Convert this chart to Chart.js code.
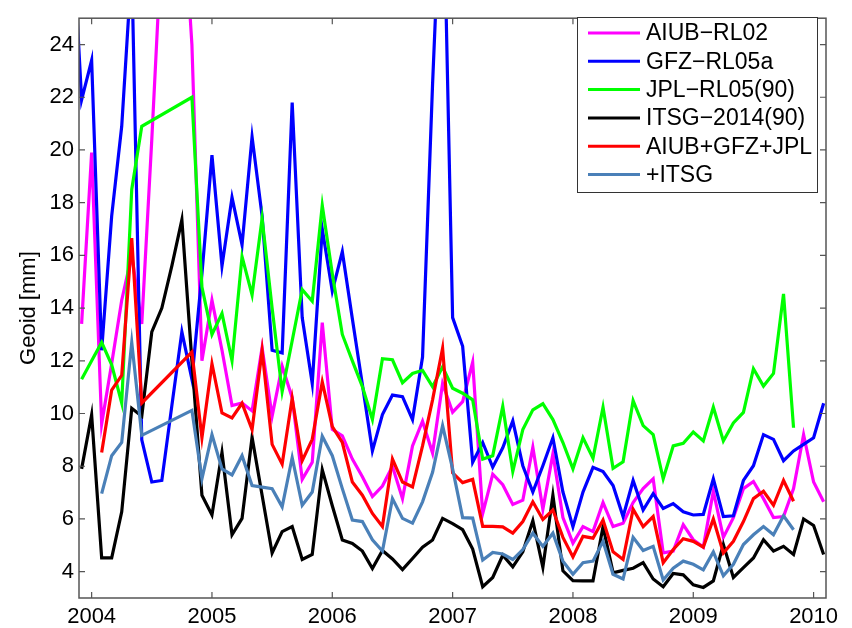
<!DOCTYPE html>
<html>
<head>
<meta charset="utf-8">
<script src="https://cdn.jsdelivr.net/npm/chart.js@4"></script>
<style>
  html, body { margin: 0; padding: 0; background: #fff; }
</style>
</head>
<body>
<canvas id="geoidChart" width="852" height="628"></canvas>
<script>
// Monthly geoid series, Nov 2003 .. Feb 2010 (one value per month, null = no solution)
const firstYear = 2003, firstMonth = 11;
const yearTicks = [2004, 2005, 2006, 2007, 2008, 2009, 2010];
const yTicks = [4, 6, 8, 10, 12, 14, 16, 18, 20, 22, 24];

const seriesNames = ['AIUB\u2212RL02', 'GFZ\u2212RL05a', 'JPL\u2212RL05(90)', 'ITSG\u22122014(90)', 'AIUB+GFZ+JPL', '+ITSG'];
const seriesColors = ['#ff00ff', '#0000ff', '#00ff00', '#000000', '#ff0000', '#4a80b8'];

const aiub = [null, 13.4, 19.9, 9.6, 11.9, 14.3, 16.0, 13.4, 20.4, 28, 32, 30, 24,
  12.0, 14.3, 12.4, 10.3, 10.4, 10.1, 12.5, 9.9, 11.8, 10.6, 7.5, 8.15, 13.45,
  9.4, 9.15, 8.27, 7.6, 6.85, 7.25, 8.0, 6.77, 8.77, 9.71, 8.5, 11.14,
  10.05, 10.45, 11.95, 6.2, 7.7, 7.3, 6.55, 6.71, 8.72, 6.37, 8.47, 6.05,
  5.08, 5.71, 5.52, 6.62, 5.71, 5.84, 6.62, 7.15, 7.52, 4.71, 4.78, 5.78,
  5.21, 4.93, 7.05, 5.3, 6.05, 7.15, 7.42, 6.77, 6.05, 6.09, 7.15, 9.2,
  7.4, 6.65];
const gfz = [29, 21.9, 23.4, 12.4, 17.5, 20.9, 27, 9.0, 7.4, 7.46, 10.3, 13.1, 11.3,
  15.3, 19.8, 15.6, 18.2, 16.4, 20.5, 17.5, 12.4, 12.3, 21.8, 13.64, 11.14, 17.0,
  14.64, 16.14, 13.6, 11.1, 8.58, 9.96, 10.7, 10.64, 9.77, 12.14, 22.5, 31.5,
  13.64, 12.55, 8.15, 8.9, 7.96, 8.7, 9.72, 8.02, 7.02, 8.02, 9.08, 7.02,
  5.7, 7.02, 7.96, 7.8, 7.27, 6.09, 7.46, 6.34, 6.96, 6.4, 6.58, 6.27,
  6.15, 6.17, 7.52, 6.09, 6.12, 7.46, 8.02, 9.2, 9.02, 8.21, 8.58, 8.83,
  9.08, 10.39];
const jpl = [null, 11.3, 12.0, 12.7, 11.85, 10.4, 18.5, 20.9, null, null, null, null, 22.0,
  14.8, 13.0, 13.8, 12.0, 15.95, 14.5, 17.4, 14.0, 10.83, 12.76, 14.7, 14.26, 17.9,
  15.3, 13.0, 12.0, 11.02, 9.77, 12.08, 12.04, 11.17, 11.52, 11.64, 11.02, 11.77,
  10.96, 10.77, 10.52, 8.27, 8.4, 10.27, 7.8, 9.39, 10.14, 10.37, 9.77, 8.9,
  7.9, 9.08, 8.3, 10.24, 7.92, 8.17, 10.49, 9.54, 9.2, 7.52, 8.77, 8.87,
  9.3, 8.96, 10.24, 8.96, 9.64, 10.04, 11.7, 11.04, 11.52, 14.54, 9.46, null,
  null, null];
const itsg = [null, 7.9, 9.95, 4.52, 4.52, 6.27, 10.2, 9.9, 13.1, 14.0, 15.6, 17.35, 12.0,
  6.9, 6.15, 8.52, 5.4, 6.02, 9.1, 6.9, 4.71, 5.52, 5.71, 4.46, 4.65, 7.87,
  6.5, 5.2, 5.07, 4.78, 4.12, 4.8, 4.48, 4.08, 4.5, 4.93, 5.2, 6.02,
  5.82, 5.59, 4.86, 3.43, 3.78, 4.62, 4.18, 4.75, 5.93, 4.16, 6.9, 4.03,
  3.66, 3.65, 3.65, 5.71, 3.96, 4.05, 4.13, 4.34, 3.72, 3.43, 3.93, 3.88,
  3.5, 3.4, 3.65, 5.03, 3.78, 4.15, 4.52, 5.21, 4.78, 4.96, 4.65, 6.0,
  5.75, 4.65];
const combo3 = [null, null, null, 8.52, 10.89, 11.45, 16.66, 10.4, null, null, null, null, 12.33,
  9.08, 11.89, 10.02, 9.83, 10.39, 9.39, 12.39, 8.83, 8.08, 10.58, 8.21, 9.02, 11.2,
  9.5, 8.9, 7.4, 6.9, 6.21, 5.71, 8.27, 7.4, 7.21, 8.77, 10.52, 12.48,
  7.75, 7.38, 7.5, 5.72, 5.72, 5.7, 5.46, 5.9, 6.65, 5.98, 6.34, 5.3,
  4.56, 5.34, 5.27, 5.96, 4.75, 4.46, 6.37, 5.71, 6.09, 4.34, 4.84, 5.25,
  5.15, 4.93, 6.0, 4.71, 5.15, 5.9, 6.77, 7.05, 6.52, 7.46, 6.67, null,
  null, null];
const combo4 = [null, null, null, 6.96, 8.4, 8.9, 12.7, 9.17, null, null, null, null, 10.12,
  7.52, 9.2, 7.9, 7.67, 8.4, 7.27, 7.21, 7.15, 6.46, 8.33, 6.52, 7.02, 9.14,
  8.4, 7.15, 5.96, 5.9, 5.21, 4.78, 6.77, 6.02, 5.84, 6.65, 7.77, 9.54,
  7.9, 6.05, 6.03, 4.44, 4.73, 4.67, 4.46, 4.84, 5.46, 4.96, 5.46, 4.4,
  3.9, 4.34, 4.4, 5.15, 3.9, 3.72, 5.3, 4.8, 4.96, 3.68, 4.13, 4.4,
  4.28, 4.07, 4.75, 3.84, 4.28, 5.03, 5.4, 5.71, 5.4, 6.12, 5.59, null,
  null, null];

const allSeries = [aiub, gfz, jpl, itsg, combo3, combo4];

// decimal year of each month (start of month)
const times = aiub.map((_, i) => firstYear + (firstMonth - 1 + i) / 12);

const FONT = { family: '"Liberation Sans", Arial, sans-serif', size: 22 };
const LEGEND_FONT_SIZE = 23;

const datasets = allSeries.map((vals, i) => ({
  label: seriesNames[i],
  data: vals.map((v, j) => ({ x: times[j], y: v })),
  borderColor: seriesColors[i],
  backgroundColor: seriesColors[i],
  borderWidth: 3.2,
  pointRadius: 0,
  spanGaps: true,
  order: allSeries.length - i   // later series on top, like the original plot
}));

// box around the axes with inward ticks on all four sides
const framePlugin = {
  id: 'frame',
  afterDatasetsDraw(chart) {
    const { ctx, chartArea: a, scales } = chart;
    ctx.save();
    ctx.strokeStyle = '#555';
    ctx.lineWidth = 1.5;
    ctx.strokeRect(a.left, a.top, a.right - a.left, a.bottom - a.top);
    ctx.lineWidth = 1.2;
    ctx.beginPath();
    yearTicks.forEach(v => {
      const x = scales.x.getPixelForValue(v);
      ctx.moveTo(x, a.bottom); ctx.lineTo(x, a.bottom - 6);
      ctx.moveTo(x, a.top); ctx.lineTo(x, a.top + 6);
    });
    yTicks.forEach(v => {
      const y = scales.y.getPixelForValue(v);
      ctx.moveTo(a.left, y); ctx.lineTo(a.left + 6, y);
      ctx.moveTo(a.right, y); ctx.lineTo(a.right - 6, y);
    });
    ctx.stroke();
    ctx.restore();
  }
};

// boxed legend in the upper right corner
const legendPlugin = {
  id: 'boxLegend',
  afterDraw(chart) {
    const { ctx } = chart;
    const bx = 577, by = 17, bw = 240, bh = 175, row = 28.3;
    ctx.save();
    ctx.fillStyle = '#fff';
    ctx.fillRect(bx, by, bw, bh);
    ctx.strokeStyle = '#333';
    ctx.lineWidth = 1;
    ctx.strokeRect(bx + 0.5, by + 0.5, bw, bh);
    ctx.font = `${LEGEND_FONT_SIZE}px ${FONT.family}`;
    ctx.textBaseline = 'middle';
    chart.data.datasets.forEach((ds, i) => {
      const y = by + 16 + i * row;
      ctx.strokeStyle = ds.borderColor;
      ctx.lineWidth = 3;
      ctx.beginPath();
      ctx.moveTo(bx + 11, y); ctx.lineTo(bx + 63, y);
      ctx.stroke();
      ctx.fillStyle = '#000';
      ctx.fillText(ds.label, bx + 69, y + 1);
    });
    ctx.restore();
  }
};

const ctx = document.getElementById('geoidChart').getContext('2d');
new Chart(ctx, {
  type: 'line',
  data: { datasets },
  options: {
    responsive: false,
    animation: false,
    layout: { padding: { left: 0, top: 9, right: 26, bottom: 0 } },
    plugins: { legend: { display: false }, tooltip: { enabled: false } },
    scales: {
      x: {
        type: 'linear',
        min: 2003.895,
        max: 2010.103,
        grid: { display: false, drawTicks: false },
        border: { display: false },
        afterBuildTicks: s => { s.ticks = yearTicks.map(v => ({ value: v })); },
        afterFit: s => { s.height = 30; },
        ticks: { font: FONT, color: '#000', padding: 6, autoSkip: false, maxRotation: 0,
                 callback: v => String(v) }
      },
      y: {
        min: 3,
        max: 25,
        grid: { display: false, drawTicks: false },
        border: { display: false },
        afterBuildTicks: s => { s.ticks = yTicks.map(v => ({ value: v })); },
        afterFit: s => { s.width = 79; },
        ticks: { font: FONT, color: '#000', padding: 5, callback: v => String(v) },
        title: { display: true, text: 'Geoid [mm]', font: FONT, color: '#000',
                 padding: { top: 16, bottom: 0 } }
      }
    }
  },
  plugins: [framePlugin, legendPlugin]
});
</script>
</body>
</html>
